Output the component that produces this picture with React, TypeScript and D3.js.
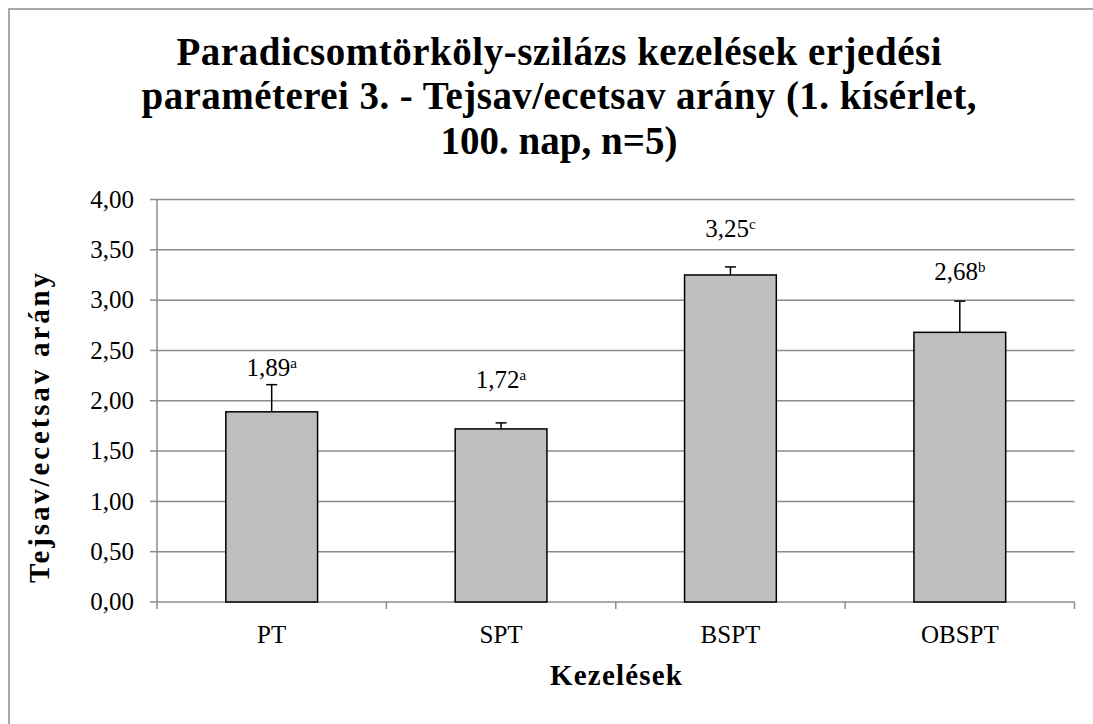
import React from 'react';
import * as d3 from 'd3';

// data
const categories = ['PT', 'SPT', 'BSPT', 'OBSPT'];
const values = [1.89, 1.72, 3.25, 2.68];
const errors = [0.27, 0.06, 0.08, 0.31];
const letters = ['a', 'a', 'c', 'b'];
const yTicks = [0, 0.5, 1, 1.5, 2, 2.5, 3, 3.5, 4];
const titleLines = [
  'Paradicsomtörköly-szilázs kezelések erjedési',
  'paraméterei 3. - Tejsav/ecetsav arány (1. kísérlet,',
  '100. nap, n=5)',
];

const W = 1093, H = 724;
const left = 157, right = 1074.5, top = 199.5, bottom = 602;
const font = '"Liberation Serif", "Times New Roman", serif';
const gridColor = '#8c8c8c';

// title line widths as drawn in the original (Excel spaces glyphs a bit wider)
const titleWidths = [765, 835, 0];
// hand-placed gap between error cap and value label, px
const labelGap = [9, 35, 30, 21];

const x = d3.scaleBand<string>()
  .domain(categories)
  .range([left, right])
  .paddingInner(0.6)
  .paddingOuter(0.3);
const y = d3.scaleLinear().domain([0, 4]).range([bottom, top]);
const fmt = (v: number) => d3.format('.2f')(v).replace('.', ',');

const App = () => {
  const step = x.step();
  const bounds = d3.range(categories.length + 1).map(i => left + i * step);

  return (
    <svg
      width={W}
      height={H}
      style={{ position: 'absolute', left: 0, top: 0, display: 'block', fontFamily: font }}
    >
      <rect x={9} y={9} width={W + 20} height={H + 20} fill="white" stroke={gridColor} strokeWidth={1.5} />

      {/* title */}
      {titleLines.map((t, i) =>
        titleWidths[i] ? (
          <text
            key={i}
            x={559 - titleWidths[i] / 2}
            y={64.5 + i * 44.8}
            textLength={titleWidths[i]}
            lengthAdjust="spacing"
            style={{ fontWeight: 'bold', fontSize: 39 }}
          >
            {t}
          </text>
        ) : (
          <text key={i} x={559} y={64.5 + i * 44.8} textAnchor="middle" style={{ fontWeight: 'bold', fontSize: 39 }}>
            {t}
          </text>
        )
      )}

      {/* gridlines */}
      {yTicks.slice(1).map(d => (
        <line key={d} x1={left} x2={right} y1={y(d)} y2={y(d)} stroke={gridColor} strokeWidth={1.5} />
      ))}

      {/* y axis */}
      <line x1={left} x2={left} y1={top} y2={bottom} stroke={gridColor} strokeWidth={1.5} />
      {yTicks.map(d => (
        <g key={d}>
          <line x1={left - 7} x2={left} y1={y(d)} y2={y(d)} stroke={gridColor} strokeWidth={1.5} />
          <text x={134} y={y(d)} dy="0.33em" textAnchor="end" style={{ fontSize: 25 }}>
            {fmt(d)}
          </text>
        </g>
      ))}

      {/* x axis */}
      <line x1={left} x2={right} y1={bottom} y2={bottom} stroke={gridColor} strokeWidth={1.5} />
      {bounds.map((b, i) => (
        <line key={i} x1={b} x2={b} y1={bottom} y2={bottom + 7} stroke={gridColor} strokeWidth={1.5} />
      ))}
      {categories.map(c => (
        <text key={c} x={x(c)! + x.bandwidth() / 2} y={643} textAnchor="middle" style={{ fontSize: 25 }}>
          {c}
        </text>
      ))}

      {/* bars */}
      {values.map((v, i) => (
        <rect
          key={i}
          x={x(categories[i])}
          y={y(v)}
          width={x.bandwidth()}
          height={bottom - y(v)}
          fill="#bfbfbf"
          stroke="black"
          strokeWidth={1.5}
        />
      ))}

      {/* error bars */}
      {values.map((v, i) => {
        const cx = x(categories[i])! + x.bandwidth() / 2;
        const yt = y(v + errors[i]);
        return (
          <g key={i} stroke="black" strokeWidth={1.5}>
            <line x1={cx} x2={cx} y1={y(v)} y2={yt} />
            <line x1={cx - 5.5} x2={cx + 5.5} y1={yt} y2={yt} />
          </g>
        );
      })}

      {/* value labels */}
      {values.map((v, i) => {
        const cx = x(categories[i])! + x.bandwidth() / 2;
        return (
          <text key={i} x={cx} y={y(v + errors[i]) - labelGap[i]} textAnchor="middle" style={{ fontSize: 25 }}>
            {fmt(v)}
            <tspan dy={-8} style={{ fontSize: 15 }}>{letters[i]}</tspan>
          </text>
        );
      })}

      {/* axis titles */}
      <text
        x={616 - 66}
        y={685}
        textLength={132}
        lengthAdjust="spacing"
        style={{ fontWeight: 'bold', fontSize: 29 }}
      >
        Kezelések
      </text>
      <text
        transform="translate(49,428) rotate(-90)"
        x={-155}
        y={0}
        textLength={310}
        lengthAdjust="spacing"
        style={{ fontWeight: 'bold', fontSize: 29 }}
      >
        Tejsav/ecetsav arány
      </text>
    </svg>
  );
};

export default App;
